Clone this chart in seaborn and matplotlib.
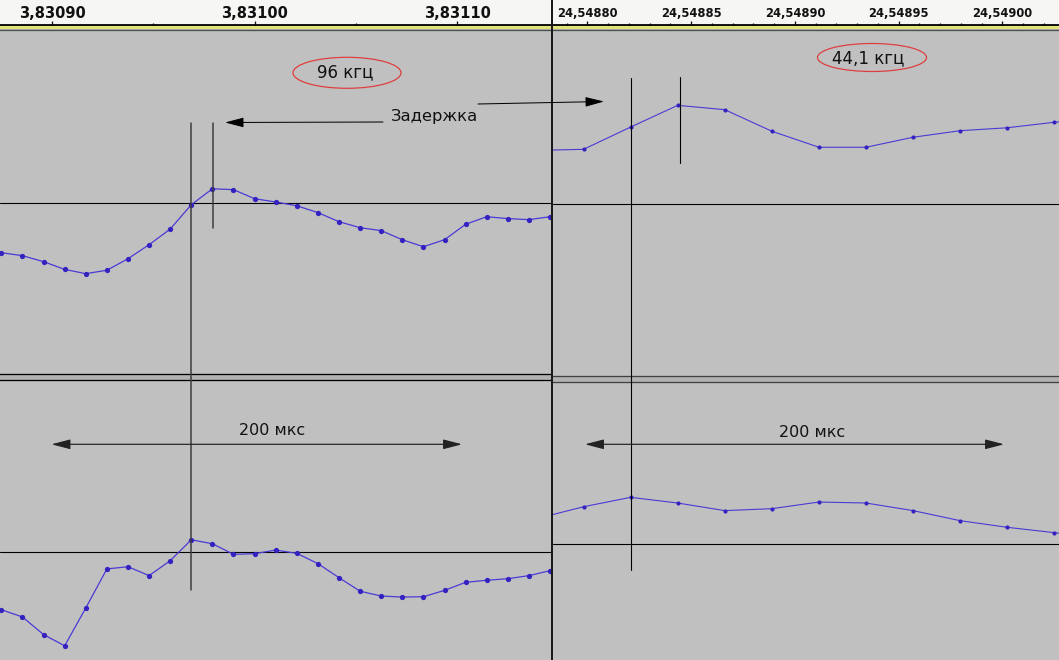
import numpy as np
import matplotlib
matplotlib.use("Agg")
import matplotlib.pyplot as plt
from matplotlib.patches import Ellipse
from matplotlib.ticker import FuncFormatter, FixedLocator, MultipleLocator
import seaborn as sns

W, H = 1059, 660
PT = 72 / 100  # points per pixel at dpi 100

# left screenshot, 96 kHz
rate_left = 96000
first_left = 367764
left_top = [-0.293, -0.310, -0.345, -0.390, -0.415, -0.395, -0.328, -0.246, -0.155,
            -0.013, 0.080, 0.075, 0.022, 0.003, -0.019, -0.059, -0.112, -0.147,
            -0.164, -0.217, -0.258, -0.217, -0.127, -0.083, -0.094, -0.100, -0.083]
left_bottom = [-0.335, -0.377, -0.480, -0.545, -0.325, -0.097, -0.084, -0.136, -0.049,
               0.073, 0.050, -0.012, -0.008, 0.013, -0.006, -0.066, -0.148, -0.227,
               -0.255, -0.261, -0.259, -0.222, -0.175, -0.163, -0.154, -0.136, -0.107]
left_ticks = [3.83090, 3.83100, 3.83110]

# right screenshot, 44.1 kHz
rate_right = 44100
first_right = 1082601
right_top = [0.308, 0.314, 0.443, 0.569, 0.544, 0.419, 0.326, 0.326, 0.384, 0.422,
             0.439, 0.471, 0.490]
right_bottom = [0.156, 0.230, 0.288, 0.253, 0.206, 0.218, 0.259, 0.253, 0.206, 0.144,
                0.103, 0.070, 0.043]
right_ticks = [24.54880, 24.54885, 24.54890, 24.54895, 24.54900]

sns.set_style("white")
plt.rcParams["font.family"] = ["DejaVu Sans"]

BG = "#c0c0c0"
WAVE = "#4a3ad6"
DOT = "#3322c0"

fig = plt.figure(figsize=(W / 100, H / 100), dpi=100, facecolor="#b2b2b2")


def box(x0, y0, x1, y1):
    return [x0 / W, 1 - y1 / H, (x1 - x0) / W, (y1 - y0) / H]


def px_time(px, t_ref, px_ref, scale):
    return t_ref + (px - px_ref) / scale


left_map = (3.83090, 52.0, 2.026e6)
right_map = (24.54880, 587.3, 2.076e6)


def track(b, zero, half, vals, first, rate, tmap, top_col, bot_col, ms, lw):
    ax = fig.add_axes(box(*b))
    ax.set_facecolor(BG)
    t = (first + np.arange(len(vals))) / rate
    ax.axhline(0, color="black", lw=1.1 * PT, zorder=1)
    sns.lineplot(x=t, y=vals, ax=ax, color=WAVE, lw=lw, marker="o", markersize=ms,
                 markerfacecolor=DOT, markeredgewidth=0, zorder=3)
    ax.set_xlim(px_time(b[0], *tmap), px_time(b[2], *tmap))
    ax.set_ylim((zero - b[3]) / half, (zero - b[1]) / half)
    ax.set_xticks([])
    ax.set_yticks([])
    ax.set_xlabel("")
    ax.set_ylabel("")
    for s in ax.spines.values():
        s.set_visible(False)
    if top_col:
        ax.spines["top"].set_visible(True)
        ax.spines["top"].set_color(top_col)
        ax.spines["top"].set_linewidth(1.3 * PT)
    if bot_col:
        ax.spines["bottom"].set_visible(True)
        ax.spines["bottom"].set_color(bot_col)
        ax.spines["bottom"].set_linewidth(1.3 * PT)
    return ax


track((0, 30, 550.5, 374.3), 202.5, 171.5, left_top, first_left, rate_left, left_map,
      "#505050", "black", 3.8, 0.9)
track((0, 380.3, 550.5, 660), 552.3, 171.5, left_bottom, first_left, rate_left, left_map,
      "black", None, 3.8, 0.9)
track((552.5, 30, 1059, 376), 203.5, 172.5, right_top, first_right, rate_right, right_map,
      "#505050", "#404040", 3.0, 0.8)
track((552.5, 381.7, 1059, 660), 544, 162, right_bottom, first_right, rate_right, right_map,
      "#404040", None, 3.0, 0.8)


def ruler(b, tmap, ticks, minor, size, pad_px):
    ax = fig.add_axes(box(*b))
    ax.set_facecolor("#f6f6f4")
    ax.set_xlim(px_time(b[0], *tmap), px_time(b[2], *tmap))
    ax.set_yticks([])
    for s in ax.spines.values():
        s.set_visible(False)
    ax.spines["bottom"].set_visible(True)
    ax.spines["bottom"].set_color("black")
    ax.spines["bottom"].set_linewidth(1.8 * PT)
    ax.xaxis.set_major_locator(FixedLocator(ticks))
    ax.xaxis.set_minor_locator(MultipleLocator(minor))
    ax.xaxis.set_major_formatter(FuncFormatter(lambda v, p: f"{v:.5f}".replace(".", ",")))
    ax.tick_params(axis="x", which="both", bottom=True, top=False)
    ax.tick_params(axis="x", which="major", direction="in", length=4 * PT, width=1.3 * PT,
                   pad=-pad_px * PT, labelsize=size, colors="#111111")
    ax.tick_params(axis="x", which="minor", direction="in", length=1.8 * PT, width=1.3 * PT,
                   colors="#111111")
    for lab in ax.get_xticklabels():
        lab.set_fontweight("bold")
    return ax


ruler((0, 0, 551, 24.5), left_map, left_ticks, 5e-5, 10.5, 18.5)
ruler((552.5, 0, 1059, 24.5), right_map, right_ticks, 1e-5, 8.3, 17.5)

# overlay in pixel coordinates for the hand-drawn notes
ov = fig.add_axes([0, 0, 1, 1])
ov.set_xlim(0, W)
ov.set_ylim(H, 0)
ov.patch.set_alpha(0)
ov.axis("off")

ov.fill_between([0, W], 25.8, 29.2, color="#e2e27a", lw=0)
ov.plot([551.5, 551.5], [0, H], color="#1a1a1a", lw=2 * PT)

# cursor lines
ov.plot([191.3, 191.3], [123, 590], color="#3c3c3c", lw=1.5 * PT)
ov.plot([213, 213], [123, 228], color="#3c3c3c", lw=1.5 * PT)
ov.plot([631, 631], [78, 570], color="black", lw=1.1 * PT)
ov.plot([680, 680], [77, 163], color="black", lw=1.1 * PT)

head = "-|>,head_length=1.15,head_width=0.3"
ov.annotate("", xy=(225, 122.5), xytext=(383, 122),
            arrowprops=dict(arrowstyle=head, color="black", lw=1 * PT, shrinkA=0, shrinkB=0))
ov.annotate("", xy=(604, 101.5), xytext=(478, 104),
            arrowprops=dict(arrowstyle=head, color="black", lw=1 * PT, shrinkA=0, shrinkB=0))
dbl = "<|-|>,head_length=1.15,head_width=0.3"
ov.annotate("", xy=(51.5, 444.3), xytext=(462, 444.3),
            arrowprops=dict(arrowstyle=dbl, color="#222222", lw=1.2 * PT, shrinkA=0, shrinkB=0))
ov.annotate("", xy=(585, 444.3), xytext=(1004, 444.3),
            arrowprops=dict(arrowstyle=dbl, color="#222222", lw=1.2 * PT, shrinkA=0, shrinkB=0))

ov.text(391, 121, "Задержка", fontsize=11.8, ha="left", va="baseline", color="#111111")
ov.text(345, 77, "96 кгц", fontsize=12, ha="center", va="baseline", color="#111111")
ov.text(868.5, 63.5, "44,1 кгц", fontsize=12, ha="center", va="baseline", color="#111111")
ov.text(272, 435, "200 мкс", fontsize=11.5, ha="center", va="baseline", color="#111111")
ov.text(812, 437, "200 мкс", fontsize=11.5, ha="center", va="baseline", color="#111111")

ov.add_patch(Ellipse((347, 72.8), 108, 31, fill=False, edgecolor="#e03a3a", lw=1.2 * PT))
ov.add_patch(Ellipse((872, 57.5), 109, 28, fill=False, edgecolor="#e03a3a", lw=1.2 * PT))

fig.savefig("out.png", dpi=100, facecolor=fig.get_facecolor())
